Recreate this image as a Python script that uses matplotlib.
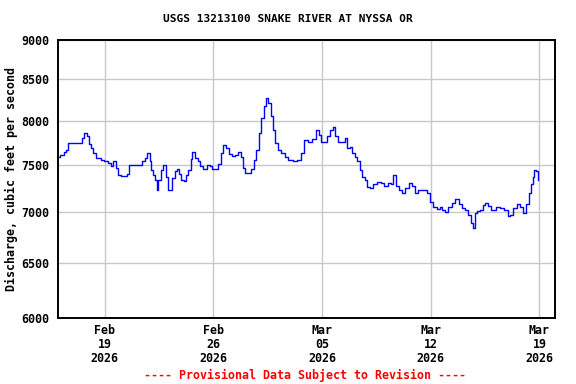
import numpy as np
import pandas as pd
import matplotlib
matplotlib.use("Agg")
import matplotlib.pyplot as plt
import matplotlib.dates as mdates
from matplotlib.ticker import FixedLocator, NullLocator

# ---------------------------------------------------------------
# USGS 13213100 Snake River at Nyssa OR - discharge, Feb/Mar 2026
# ---------------------------------------------------------------

START = pd.Timestamp("2026-02-16")

# days after Feb 16 00:00
days = [0.00, 0.30, 0.41, 0.56, 0.73, 0.84, 1.48, 1.59, 1.76, 1.91,
        2.02, 2.19, 2.34, 2.49, 2.66, 2.83, 3.09, 3.31, 3.48, 3.65,
        3.80, 3.91, 4.16, 4.38, 4.49, 4.64, 5.02, 5.34, 5.49, 5.67,
        5.84, 5.95, 6.05, 6.20, 6.31, 6.42, 6.52, 6.70, 6.85, 7.00,
        7.17, 7.28, 7.43, 7.60, 7.71, 7.86, 8.03, 8.18, 8.33, 8.46,
        8.61, 8.71, 8.89, 9.10, 9.25, 9.47, 9.68, 9.89, 10.00, 10.22,
        10.39, 10.54, 10.75, 10.90, 11.08, 11.29, 11.50, 11.68, 11.83, 11.98,
        12.15, 12.36, 12.54, 12.69, 12.84, 13.01, 13.18, 13.33, 13.48, 13.61,
        13.76, 13.91, 14.08, 14.25, 14.51, 14.72, 14.94, 15.26, 15.58, 15.75,
        15.97, 16.23, 16.48, 16.70, 16.87, 17.04, 17.26, 17.41, 17.62, 17.73,
        17.90, 18.12, 18.37, 18.59, 18.69, 18.85, 19.02, 19.19, 19.34, 19.49,
        19.66, 19.83, 19.98, 20.20, 20.41, 20.63, 20.91, 21.12, 21.33, 21.49,
        21.70, 21.85, 22.02, 22.24, 22.45, 22.71, 22.88, 23.10, 23.31, 23.63,
        23.91, 24.06, 24.28, 24.49, 24.64, 24.86, 25.03, 25.24, 25.46, 25.71,
        25.93, 26.14, 26.31, 26.49, 26.64, 26.74, 26.92, 27.07, 27.28, 27.43,
        27.60, 27.77, 28.03, 28.35, 28.63, 28.85, 29.06, 29.21, 29.43, 29.64,
        29.86, 30.07, 30.22, 30.39, 30.50, 30.61, 30.71, 30.82, 30.93]

# discharge, cfs
cfs = [7590, 7610, 7640, 7670, 7740, 7740, 7740, 7800, 7860, 7820,
       7730, 7690, 7630, 7580, 7580, 7550, 7540, 7520, 7490, 7540,
       7470, 7390, 7380, 7380, 7400, 7500, 7500, 7500, 7540, 7580,
       7630, 7540, 7450, 7390, 7340, 7230, 7340, 7450, 7500, 7370,
       7230, 7230, 7360, 7430, 7460, 7400, 7340, 7330, 7390, 7450,
       7570, 7640, 7580, 7540, 7490, 7460, 7500, 7490, 7460, 7460,
       7510, 7630, 7720, 7690, 7620, 7600, 7610, 7640, 7590, 7470,
       7410, 7410, 7460, 7560, 7670, 7860, 8030, 8170, 8270, 8210,
       8050, 7890, 7740, 7670, 7630, 7590, 7550, 7540, 7560, 7630,
       7780, 7760, 7790, 7890, 7840, 7760, 7760, 7820, 7890, 7930,
       7820, 7760, 7760, 7800, 7690, 7700, 7630, 7590, 7540, 7450,
       7370, 7340, 7260, 7250, 7300, 7320, 7310, 7270, 7310, 7290,
       7390, 7270, 7230, 7200, 7250, 7310, 7270, 7200, 7230, 7230,
       7200, 7110, 7050, 7030, 7050, 7020, 7000, 7050, 7100, 7140,
       7090, 7040, 7020, 6970, 6890, 6840, 6990, 7010, 7020, 7080,
       7100, 7060, 7020, 7050, 7040, 7020, 6960, 6970, 7040, 7090,
       7050, 6990, 7090, 7200, 7290, 7370, 7450, 7430, 7340]

y_ticks = [6000, 6500, 7000, 7500, 8000, 8500, 9000]
x_ticks = ["2026-02-19", "2026-02-26", "2026-03-05", "2026-03-12", "2026-03-19"]

FONT = "DejaVu Sans Mono"

times = START + pd.to_timedelta(days, unit="D")

fig = plt.figure(figsize=(5.76, 3.84), dpi=100)
ax = fig.add_axes([0.1007, 0.1719, 0.8628, 0.7239])

ax.plot(times, cfs, color="#0000ff", lw=1.0, drawstyle="steps-mid")

ax.set_yscale("log")
ax.set_ylim(6000, 9000)
ax.yaxis.set_major_locator(FixedLocator(y_ticks))
ax.yaxis.set_minor_locator(NullLocator())
ax.set_yticklabels([str(v) for v in y_ticks])

ax.set_xlim(pd.Timestamp("2026-02-16"), pd.Timestamp("2026-03-20"))
xt = pd.to_datetime(x_ticks)
ax.set_xticks(xt)
ax.set_xticklabels([d.strftime("%b\n%d\n%Y") for d in xt], linespacing=1.1)
ax.xaxis.set_minor_locator(NullLocator())

ax.grid(True, color="#c8c8c8", lw=1.0)
ax.set_axisbelow(True)
for s in ax.spines.values():
    s.set_linewidth(1.4)

ax.tick_params(length=0, pad=6, labelsize=8.4)
for lab in ax.get_xticklabels() + ax.get_yticklabels():
    lab.set_fontfamily(FONT)
    lab.set_fontweight("bold")
ax.tick_params(axis="x", pad=4)

ax.set_ylabel("Discharge, cubic feet per second", fontfamily=FONT,
              fontweight="bold", fontsize=8.4, labelpad=3)
fig.text(0.5, 1 - 19 / 384, "USGS 13213100 SNAKE RIVER AT NYSSA OR",
         ha="center", va="center", fontfamily=FONT, fontweight="bold",
         fontsize=8.0)
fig.text(0.530, 1 - 375 / 384, "---- Provisional Data Subject to Revision ----",
         ha="center", va="center", fontfamily=FONT, fontweight="bold",
         fontsize=8.4, color="#ff0000")

fig.savefig("out.png", dpi=100)
